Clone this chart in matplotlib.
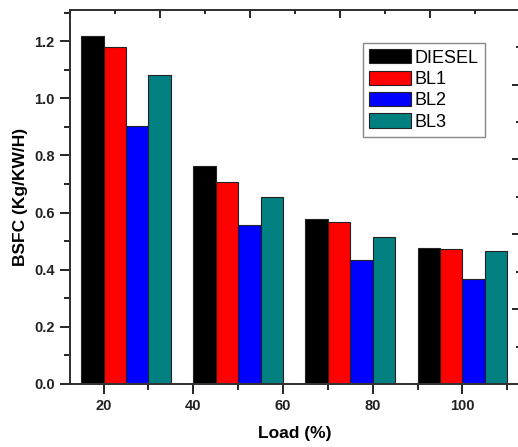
#!/usr/bin/env python3

import matplotlib
matplotlib.use('Agg')
import matplotlib.pyplot as plt
from matplotlib.ticker import MultipleLocator
import numpy as np

plt.rcParams['font.family'] = ['Liberation Sans', 'DejaVu Sans']

# values
series_names = ['DIESEL', 'BL1', 'BL2', 'BL3']
colors = ['#000000', '#ff0000', '#0000ff', '#008080']
diesel = [1.219, 0.763, 0.578, 0.477]
bl1 = [1.180, 0.707, 0.567, 0.472]
bl2 = [0.903, 0.557, 0.433, 0.366]
bl3 = [1.082, 0.653, 0.513, 0.465]
load_ticks = [20, 40, 60, 80, 100]

series = [diesel, bl1, bl2, bl3]

fig = plt.figure(figsize=(5.18, 4.47), dpi=100)
# right spine sits just past the image edge, as in the reference
ax = fig.add_axes([0.135, 0.141, 0.868, 0.837])

# groups are spaced 25 apart starting at 15, each bar is 5 wide
width = 5
group_start = 15 + 25 * np.arange(len(diesel))
for j, (vals, name, c) in enumerate(zip(series, series_names, colors)):
  ax.bar(group_start + width * j + width / 2, vals, width=width, color=c,
         edgecolor='#222222', linewidth=0.8, label=name, zorder=2)

ax.set_xlim(12.5, 112.75)
ax.set_ylim(0, 1.31)
ax.set_xticks(load_ticks)
ax.xaxis.set_minor_locator(MultipleLocator(10))
ax.yaxis.set_major_locator(MultipleLocator(0.2))
ax.yaxis.set_minor_locator(MultipleLocator(0.1))
ax.yaxis.set_major_formatter(plt.FormatStrFormatter('%.1f'))

ax.tick_params(which='major', direction='out', length=7, width=1.2, labelsize=10.5, pad=4)
ax.tick_params(which='minor', direction='out', length=4, width=1.2)
for lab in ax.get_xticklabels() + ax.get_yticklabels():
  lab.set_fontweight('bold')
  lab.set_color('#222222')

for s in ax.spines.values():
  s.set_linewidth(1.2)
  s.set_color('#333333')

ax.set_xlabel('Load (%)', fontsize=12.5, fontweight='bold', labelpad=9)
ax.set_ylabel('BSFC (Kg/KW/H)', fontsize=12.5, fontweight='bold', labelpad=4)

# mirrored top / right ticks with their own scales, no labels
ax_r = ax.twinx()
ax_r.set_ylim(0, 5)
ax_r.yaxis.set_major_locator(MultipleLocator(1))
ax_r.yaxis.set_minor_locator(MultipleLocator(0.5))
ax_r.tick_params(which='major', direction='in', length=6, width=1.2, labelright=False)
ax_r.tick_params(which='minor', direction='in', length=3, width=1.2)
ax_t = ax.twiny()
ax_t.set_xlim(0, 5)
ax_t.xaxis.set_major_locator(MultipleLocator(1))
ax_t.xaxis.set_minor_locator(MultipleLocator(0.5))
ax_t.tick_params(which='major', direction='in', length=6, width=1.2, labeltop=False)
ax_t.tick_params(which='minor', direction='in', length=3, width=1.2)
for a in (ax_r, ax_t):
  for s in a.spines.values():
    s.set_linewidth(1.2)
    s.set_color('#333333')

leg = ax.legend(loc='upper left', bbox_to_anchor=(0.652, 0.912), borderaxespad=0,
                fancybox=False, edgecolor='#888888', framealpha=1,
                prop={'size': 13}, handlelength=2.3, handleheight=0.85,
                labelspacing=0.22, handletextpad=0.2, borderpad=0.35)
leg.get_frame().set_linewidth(1.0)

fig.savefig('out.png', dpi=100)
